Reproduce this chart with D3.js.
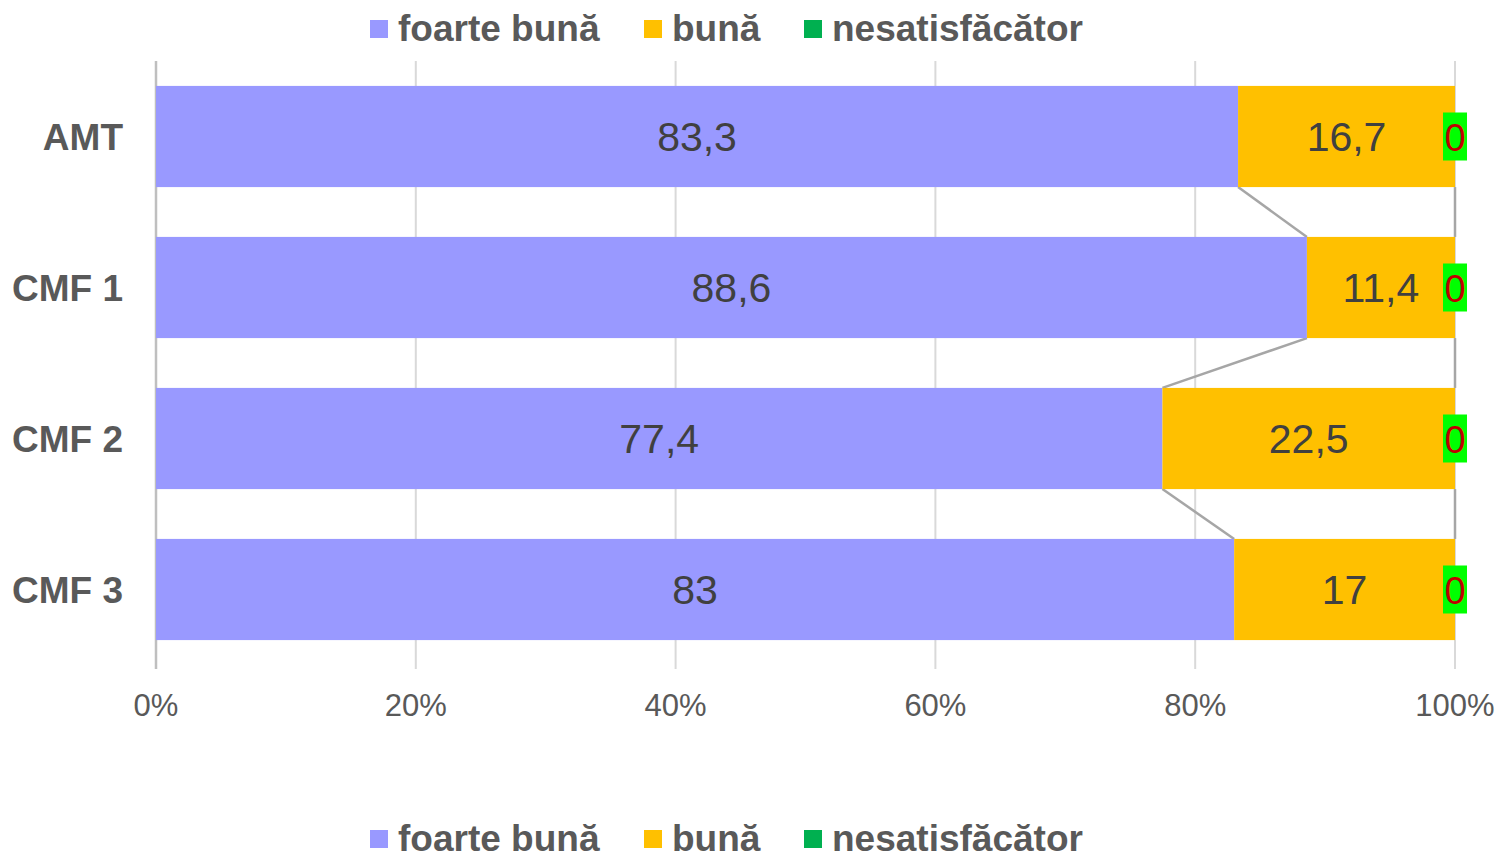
<!DOCTYPE html>
<html>
<head>
<meta charset="utf-8">
<script src="https://cdn.jsdelivr.net/npm/d3@7"></script>
<style>
  body { margin: 0; background: #fff; }
  svg { display: block; }
</style>
</head>
<body>
<script>
// Data
var categories = ["AMT", "CMF 1", "CMF 2", "CMF 3"];
var seriesNames = ["foarte bună", "bună", "nesatisfăcător"];
var foarteBuna = [83.3, 88.6, 77.4, 83];
var buna = [16.7, 11.4, 22.5, 17];
var nesatisfacator = [0, 0, 0, 0];
var tickLabels = [0, 20, 40, 60, 80, 100];

var colors = ["#9999ff", "#ffc000", "#00b050"];

var width = 1501, height = 862;
var margin = {top: 61, left: 156, right: 46, bottom: 197};

var svg = d3.select("body").append("svg")
    .attr("width", width)
    .attr("height", height);

// build stacked rows, normalised to 100%
var rows = categories.map(function(c, i) {
    var vals = [foarteBuna[i], buna[i], nesatisfacator[i]];
    var total = d3.sum(vals);
    var x0 = 0;
    return {
        cat: c,
        segs: vals.map(function(v, k) {
            var s = {k: k, v: v, x0: x0, x1: x0 + v / total * 100};
            x0 = s.x1;
            return s;
        })
    };
});

var xScale = d3.scaleLinear().domain([0, 100])
    .range([margin.left, width - margin.right]);
var yScale = d3.scaleBand().domain(categories)
    .range([margin.top, height - margin.bottom])
    .paddingInner(0.33).paddingOuter(0.165);

// Gridlines
svg.append("g").selectAll("line")
    .data(tickLabels)
    .enter().append("line")
    .attr("x1", function(d) { return xScale(d); })
    .attr("x2", function(d) { return xScale(d); })
    .attr("y1", margin.top)
    .attr("y2", height - margin.bottom + 4)
    .attr("stroke", function(d) { return d === 0 ? "#bfbfbf" : "#d9d9d9"; })
    .attr("stroke-width", function(d) { return d === 0 ? 2.5 : 2; });

// tick labels
svg.append("g").selectAll("text")
    .data(tickLabels)
    .enter().append("text")
    .attr("x", function(d) { return xScale(d); })
    .attr("y", 716)
    .attr("text-anchor", "middle")
    .attr("font-family", "'Liberation Sans Narrow', 'Liberation Sans', Arial, sans-serif")
    .attr("font-size", 31)
    .attr("fill", "#595959")
    .text(function(d) { return d + "%"; });

// Series lines between bars
var bw = yScale.bandwidth();
var seriesLines = [];
for (var i = 0; i < rows.length - 1; i++) {
    [0, 1].forEach(function(k) {
        seriesLines.push({
            xa: rows[i].segs[k].x1, ya: yScale(rows[i].cat) + bw,
            xb: rows[i + 1].segs[k].x1, yb: yScale(rows[i + 1].cat)
        });
    });
}
svg.append("g").selectAll("line")
    .data(seriesLines)
    .enter().append("line")
    .attr("x1", function(d) { return xScale(d.xa); })
    .attr("y1", function(d) { return d.ya; })
    .attr("x2", function(d) { return xScale(d.xb); })
    .attr("y2", function(d) { return d.yb; })
    .attr("stroke", "#a6a6a6")
    .attr("stroke-width", 2.5);

// Bars
var rowG = svg.append("g").selectAll("g")
    .data(rows)
    .enter().append("g")
    .attr("transform", function(d) { return "translate(0," + yScale(d.cat) + ")"; });

rowG.selectAll("rect")
    .data(function(d) { return d.segs; })
    .enter().append("rect")
    .attr("x", function(d) { return xScale(d.x0); })
    .attr("width", function(d) { return xScale(d.x1) - xScale(d.x0); })
    .attr("y", 0)
    .attr("height", bw)
    .attr("fill", function(d) { return colors[d.k]; });

// value labels
rowG.each(function(r) {
    var g = d3.select(this);
    r.segs.forEach(function(s) {
        var cx = xScale((s.x0 + s.x1) / 2);
        var label = String(s.v).replace(".", ",");
        if (s.v === 0) {
            g.append("rect")
                .attr("x", cx - 12).attr("y", bw / 2 - 24)
                .attr("width", 24).attr("height", 48)
                .attr("fill", "#00ff00");
        }
        g.append("text")
            .attr("x", cx).attr("y", bw / 2 + 15)
            .attr("text-anchor", "middle")
            .attr("font-family", "'Liberation Sans', Arial, sans-serif")
            .attr("font-size", s.v === 0 ? 38 : 41)
            .attr("fill", s.v === 0 ? "#c00000" : "#404040")
            .text(label);
    });
});

// Category labels
svg.append("g").selectAll("text")
    .data(categories)
    .enter().append("text")
    .attr("x", 123)
    .attr("y", function(d) { return yScale(d) + bw / 2 + 13; })
    .attr("text-anchor", "end")
    .attr("font-family", "'Liberation Sans', Arial, sans-serif")
    .attr("font-weight", "bold")
    .attr("font-size", 37)
    .attr("fill", "#595959")
    .text(function(d) { return d; });

// Legends (top and bottom)
var legendX = [370, 644, 804];
function drawLegend(y) {
    var lg = svg.append("g").attr("transform", "translate(0," + y + ")");
    seriesNames.forEach(function(n, k) {
        lg.append("rect")
            .attr("x", legendX[k]).attr("y", -9)
            .attr("width", 18).attr("height", 18)
            .attr("fill", colors[k]);
        lg.append("text")
            .attr("x", legendX[k] + 28).attr("y", 12)
            .attr("font-family", "'Liberation Sans Narrow', 'Liberation Sans', Arial, sans-serif")
            .attr("font-weight", "bold")
            .attr("font-size", 37)
            .attr("fill", "#595959")
            .text(n);
    });
}
drawLegend(29);
drawLegend(839);
</script>
</body>
</html>
